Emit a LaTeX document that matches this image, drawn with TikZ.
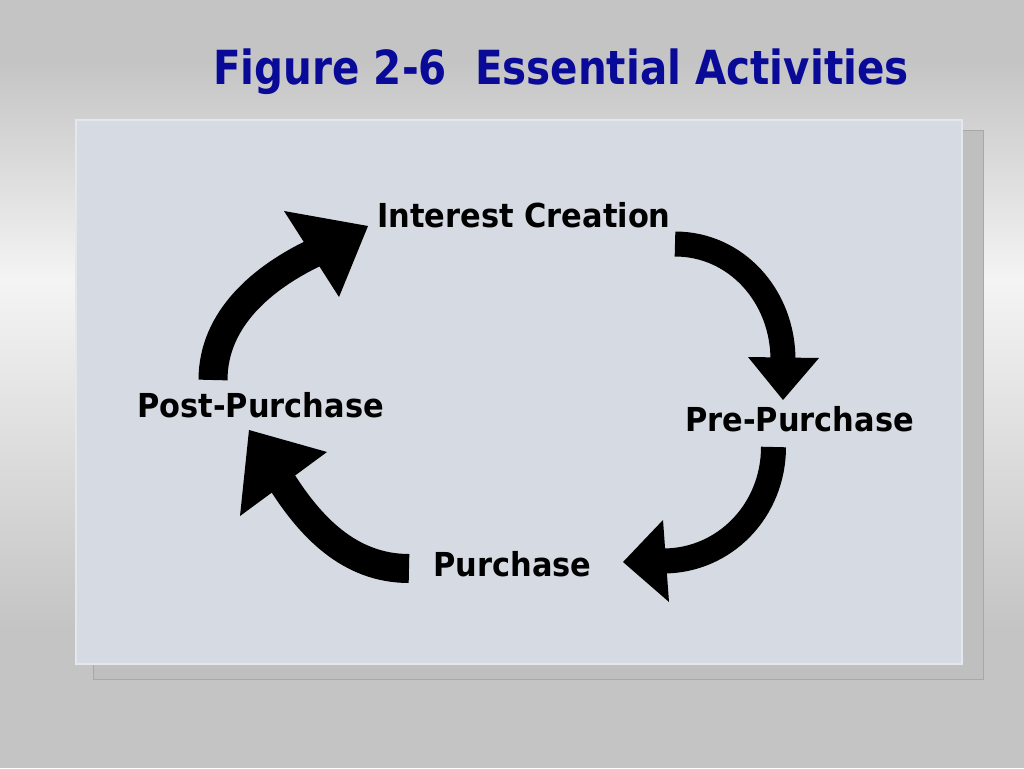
\documentclass[tikz,border=0pt]{standalone}
\usepackage{fontspec}
\setmainfont{DejaVu Sans}[FakeStretch=0.86]
\newfontfamily\lblfont{DejaVu Sans}[FakeStretch=0.923]
\definecolor{bggray}{HTML}{C4C4C4}
\definecolor{bglight}{HTML}{F4F4F4}
\definecolor{panel}{HTML}{D6DBE3}
\definecolor{panelrim}{HTML}{E4E7EC}
\definecolor{shadowc}{HTML}{BFBFBF}
\definecolor{shadowrim}{HTML}{A8A8A8}
\definecolor{titleblue}{HTML}{0A0A99}
\begin{document}
\begin{tikzpicture}[x=1pt,y=-1pt,
  lbl/.style={inner sep=0pt,anchor=base,font=\lblfont\bfseries\fontsize{33}{40}\selectfont},
  ttl/.style={inner sep=0pt,anchor=base,text=titleblue,font=\bfseries\fontsize{47}{56}\selectfont},
  shaft/.style={draw=black,line cap=butt},
  head/.style={fill=black}]
\useasboundingbox (0,0) rectangle (1024,768);
% background
\fill[bggray] (0,0) rectangle (1024,60);
\shade[top color=bggray,bottom color=bglight] (0,60) rectangle (1024,280);
\shade[top color=bglight,bottom color=bggray] (0,280) rectangle (1024,630);
\fill[bggray] (0,630) rectangle (1024,768);
% panel and shadow
\filldraw[fill=shadowc,draw=shadowrim,line width=1pt] (93,130) rectangle (983,679);
\filldraw[fill=panel,draw=panelrim,line width=1.5pt] (76,120) rectangle (962,664);
% title
\node[ttl] (title) at (561,84) {Figure 2-6\ \ Essential Activities};
% labels
\node[lbl] (ic) at (524,227) {Interest Creation};
\node[lbl] (pre) at (799.5,431) {Pre-Purchase};
\node[lbl] (pur) at (512.5,576) {Purchase};
\node[lbl] (post) at (260.5,417) {Post-Purchase};
% arrow coordinates
\coordinate (a1s) at (213,380);   \coordinate (a1m) at (314,253);  \coordinate (a1e) at (368,226);
\coordinate (a2s) at (675,244);   \coordinate (a2m) at (783,360);  \coordinate (a2e) at (783,400);
\coordinate (a3s) at (773.5,447); \coordinate (a3m) at (663,561);  \coordinate (a3e) at (623,562);
\coordinate (a4s) at (409,568.5); \coordinate (a4m) at (281.5,481); \coordinate (a4e) at (249,430);
% shafts
\draw[shaft,line width=29pt] (a1s) .. controls (213,318) and (264,277) .. (a1m);
\draw[shaft,line width=25pt] (a2s) .. controls (736,244) and (783,296) .. (a2m);
\draw[shaft,line width=25pt] (a3s) .. controls (773.5,510) and (725,561) .. (a3m);
\draw[shaft,line width=29pt] (a4s) .. controls (349,568.5) and (310,526) .. (a4m);
% heads
\fill[head] (284,211) -- (a1e) -- (339,297) -- cycle;
\fill[head] (748,357) -- (a2e) -- (819,358) -- cycle;
\fill[head] (663,520) -- (a3e) -- (669,602) -- cycle;
\fill[head] (240,516) -- (a4e) -- (327,452) -- cycle;
\end{tikzpicture}
\end{document}
